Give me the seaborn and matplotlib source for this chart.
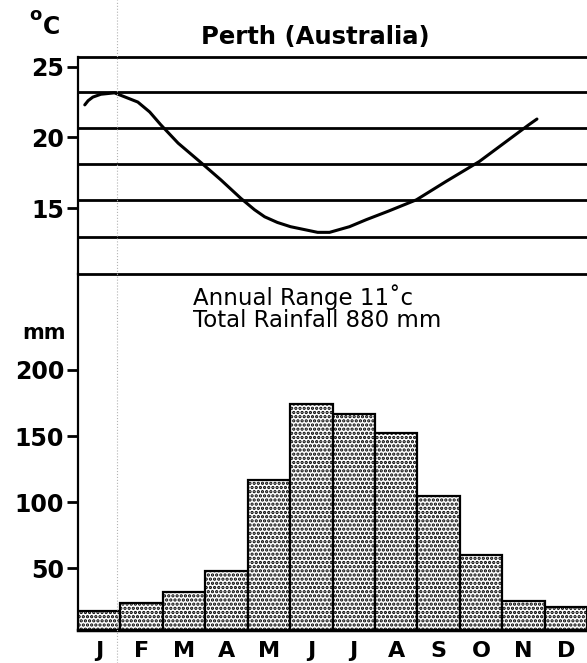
import matplotlib
matplotlib.use("Agg")
import matplotlib.pyplot as plt
from matplotlib.lines import Line2D
import seaborn as sns
import pandas as pd

# monthly rainfall (mm)
months = ["Jan", "Feb", "Mar", "Apr", "May", "Jun",
          "Jul", "Aug", "Sep", "Oct", "Nov", "Dec"]
month_labels = ["J", "F", "M", "A", "M", "J", "J", "A", "S", "O", "N", "D"]
rainfall = [18, 24, 32, 48, 117, 174, 167, 152, 105, 60, 25, 21]

# hand drawn temperature curve, read at points along it (x in month units, 0 = Jan)
curve_pos = [-0.34, -0.26, -0.15, 0.04, 0.36, 0.91, 1.19, 1.45, 1.86, 2.37,
             2.87, 3.34, 3.66, 3.90, 4.20, 4.51, 4.83, 5.15, 5.43, 5.90,
             6.30, 6.82, 7.48, 8.18, 8.96, 9.59, 10.13, 10.32]
curve_temp = [22.3, 22.6, 22.85, 23.05, 23.15, 22.5, 21.8, 20.9, 19.6, 18.3,
              17.0, 15.7, 14.9, 14.4, 14.0, 13.7, 13.5, 13.3, 13.3, 13.7,
              14.2, 14.8, 15.6, 16.9, 18.3, 19.7, 20.9, 21.3]

# ruled lines across the temperature panel
temp_lines = [23.2, 20.65, 18.15, 15.6, 13.0]

sns.set_style("white")
plt.rcParams["font.family"] = ["DejaVu Sans"]
plt.rcParams.update({"text.color": "black", "axes.edgecolor": "black",
                     "xtick.color": "black", "ytick.color": "black",
                     "axes.labelcolor": "black"})

fig = plt.figure(figsize=(5.87, 6.63), dpi=100)
W, H = 587, 663
x0, x1 = 78 / W, 1.0
ax_b = fig.add_axes([x0, 1 - 629.5 / H, x1 - x0, (629.5 - 274) / H])
ax_t = fig.add_axes([x0, 1 - 274 / H, x1 - x0, (274 - 57) / H])
ax_b.set_facecolor("none")
ax_t.set_facecolor("none")

# --- temperature panel ---
sns.lineplot(x=curve_pos, y=curve_temp, ax=ax_t, color="black", linewidth=2.2, sort=False)
for v in temp_lines:
    ax_t.axhline(v, color="black", linewidth=2.0)
ax_t.set_xlim(-0.5, 11.5)
ax_t.set_ylim(10.36, 25.68)
ax_t.set_yticks([15, 20, 25])
ax_t.set_xticks([])
ax_t.spines["right"].set_visible(False)
for s in ["top", "bottom"]:
    ax_t.spines[s].set_linewidth(2.0)
ax_t.spines["left"].set_linewidth(1.6)
ax_t.tick_params(axis="y", direction="out", length=8, width=2, pad=2, left=True)
for lab in ax_t.get_yticklabels():
    lab.set_fontweight("bold")
    lab.set_fontsize(17)

# --- rainfall panel ---
df = pd.DataFrame({"month": months, "rain": rainfall})
plt.rcParams["hatch.linewidth"] = 1.6
sns.barplot(data=df, x="month", y="rain", order=months, ax=ax_b, color="white",
            edgecolor="black", linewidth=1.6, width=1.0, saturation=1)
for p in ax_b.patches:
    p.set_hatch("....")
ax_b.set_xlim(-0.5, 11.5)
ax_b.set_ylim(3.7, 272.6)
ax_b.set_yticks([50, 100, 150, 200])
ax_b.set_xticks(range(12))
ax_b.set_xticklabels(month_labels, fontsize=16, fontweight="bold")
ax_b.set_xlabel("")
ax_b.set_ylabel("")
ax_b.spines["right"].set_visible(False)
ax_b.spines["top"].set_visible(False)
ax_b.spines["bottom"].set_linewidth(2.5)
ax_b.spines["left"].set_linewidth(1.6)
ax_b.tick_params(axis="y", direction="out", length=8, width=2, pad=2, left=True)
ax_b.tick_params(axis="x", length=0, pad=8)
for lab in ax_b.get_yticklabels():
    lab.set_fontweight("bold")
    lab.set_fontsize(17)

ax_b.text(0.226, 0.936, "Annual Range 11˚c", transform=ax_b.transAxes,
          fontsize=16.5, va="center", ha="left")
ax_b.text(0.226, 0.869, "Total Rainfall 880 mm", transform=ax_b.transAxes,
          fontsize=16.5, va="center", ha="left")

# headings
fig.text(315 / W, 1 - 37 / H, "Perth (Australia)", fontsize=17.5, fontweight="bold",
         ha="center", va="center")
fig.text(35 / W, 1 - 15 / H, "o", fontsize=13, fontweight="bold", ha="center", va="center")
fig.text(51 / W, 1 - 27 / H, "C", fontsize=17, fontweight="bold", ha="center", va="center")
fig.text(44 / W, 1 - 333 / H, "mm", fontsize=15, fontweight="bold", ha="center", va="center")

# faint fold line from the scan
fig.add_artist(Line2D([117 / W, 117 / W], [0, 1], transform=fig.transFigure,
                      color="0.7", linewidth=0.8, linestyle=":"))

fig.savefig("out.png", dpi=100, facecolor="white")
